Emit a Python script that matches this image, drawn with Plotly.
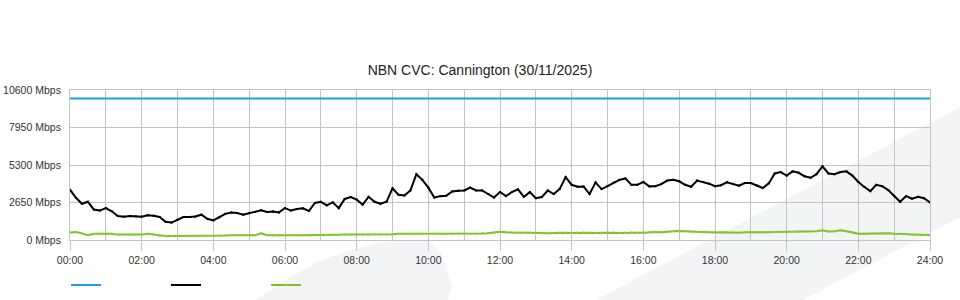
import plotly.graph_objects as go

# ---- data (10-minute samples, 00:00 .. 24:00) ----
hour_ticks = [0, 2, 4, 6, 8, 10, 12, 14, 16, 18, 20, 22, 24]
hour_labels = ["00:00", "02:00", "04:00", "06:00", "08:00", "10:00", "12:00",
               "14:00", "16:00", "18:00", "20:00", "22:00", "24:00"]
y_ticks = [0, 2650, 5300, 7950, 10600]
y_labels = ["0 Mbps", "2650 Mbps", "5300 Mbps", "7950 Mbps", "10600 Mbps"]

capacity_times = [0, 24]
capacity_mbps = [10000, 10000]

download_mbps = [
    3555, 2980, 2560, 2700, 2150, 2080, 2260, 2030, 1700, 1650,
    1690, 1670, 1650, 1750, 1717, 1625, 1290, 1230, 1435, 1625,
    1625, 1660, 1790, 1500, 1385, 1600, 1850, 1950, 1900, 1790,
    1900, 1980, 2100, 1980, 2020, 1950, 2260, 2080, 2190, 2235,
    2050, 2615, 2700, 2450, 2660, 2250, 2900, 3040, 2850, 2500,
    3050, 2700, 2565, 2700, 3650, 3200, 3150, 3505, 4650, 4250,
    3700, 3000, 3100, 3130, 3435, 3480, 3500, 3700, 3505, 3505,
    3250, 3000, 3390, 3100, 3390, 3580, 3050, 3380, 2950, 3040,
    3500, 3250, 3605, 4450, 3900, 3760, 3780, 3250, 4070, 3600,
    3800, 4050, 4250, 4350, 3900, 3900, 4100, 3790, 3800, 3950,
    4200, 4250, 4150, 3900, 3760, 4200, 4100, 3980, 3800, 3870,
    4080, 3950, 3840, 4030, 4020, 3850, 3675, 4000, 4700, 4800,
    4550, 4850, 4750, 4500, 4400, 4650, 5200, 4700, 4650, 4800,
    4850, 4550, 4100, 3750, 3450, 3900, 3800, 3530, 3100, 2700,
    3100, 2920, 3050, 2950, 2650,
]

upload_mbps = [
    530, 560, 470, 330, 440, 440, 430, 440, 380, 380,
    370, 380, 380, 440, 380, 290, 280, 280, 280, 280,
    280, 280, 280, 290, 280, 330, 320, 340, 330, 330,
    350, 330, 480, 340, 330, 320, 340, 330, 330, 340,
    320, 350, 360, 350, 380, 370, 380, 380, 390, 380,
    380, 400, 390, 380, 400, 440, 440, 440, 450, 440,
    430, 450, 440, 420, 440, 460, 450, 440, 440, 460,
    480, 520, 580, 540, 520, 510, 520, 520, 500, 510,
    480, 500, 520, 510, 500, 520, 530, 510, 500, 520,
    540, 520, 500, 520, 540, 520, 510, 540, 560, 540,
    600, 620, 640, 620, 580, 560, 540, 540, 530, 540,
    520, 530, 520, 540, 530, 520, 530, 540, 560, 570,
    560, 570, 600, 590, 600, 620, 680, 600, 620, 680,
    620, 560, 450, 450, 460, 450, 450, 470, 440, 450,
    430, 380, 360, 350, 350,
]

sample_times = [i / 6 for i in range(len(download_mbps))]

# ---- figure ----
W, H = 960, 300
L, R, T, B = 70, 30, 90, 60
PW, PH = W - L - R, H - T - B


def px(x, y):
    return (x - L) / PW, (H - B - y) / PH


def path(points):
    pts = [px(x, y) for x, y in points]
    return "M " + " L ".join(f"{a:.4f},{b:.4f}" for a, b in pts) + " Z"


band = [(577, 310), (975, 99), (975, 209), (784, 310)]
blob = [(250, 303), (283, 282), (317, 262), (350, 250), (383, 242), (410, 239.5),
        (430, 241.5), (442, 255), (447, 272), (452, 287), (447, 303)]

fig = go.Figure()
fig.add_trace(go.Scatter(x=capacity_times, y=capacity_mbps, mode="lines",
                         name=" ", line=dict(color="#1ba1e2", width=2)))
fig.add_trace(go.Scatter(x=sample_times, y=download_mbps, mode="lines+markers",
                         name=" ", line=dict(color="#000000", width=2),
                         marker=dict(symbol="square", size=2, color="#000000")))
fig.add_trace(go.Scatter(x=sample_times, y=upload_mbps, mode="lines+markers",
                         name=" ", line=dict(color="#7cc225", width=2),
                         marker=dict(symbol="square", size=2, color="#8fcf3a")))

grid = "#c4c4c4"
fig.update_layout(
    width=W, height=H,
    margin=dict(l=L, r=R, t=T, b=B, autoexpand=False),
    paper_bgcolor="white",
    plot_bgcolor="rgba(0,0,0,0)",
    font=dict(family="Liberation Sans, Arial, sans-serif", size=10.5, color="#333333"),
    title=dict(text="NBN CVC: Cannington (30/11/2025)", x=0.5, xanchor="center",
               y=1 - 70 / H, yanchor="middle",
               font=dict(size=14, color="#222222")),
    showlegend=True,
    legend=dict(orientation="h", x=-4 / PW, xanchor="left", y=(H - B - 285) / PH,
                yanchor="middle", entrywidth=55, entrywidthmode="pixels",
                bgcolor="rgba(0,0,0,0)", itemclick=False),
    shapes=[
        dict(type="path", xref="paper", yref="paper", path=path(band),
             fillcolor="#f3f4f6", line=dict(width=0), layer="below"),
        dict(type="path", xref="paper", yref="paper", path=path(blob),
             fillcolor="#f3f4f6", line=dict(width=0), layer="below"),
    ],
)
fig.update_xaxes(
    range=[0, 24], tickvals=hour_ticks, ticktext=hour_labels,
    showgrid=True, gridcolor=grid, gridwidth=1,
    ticks="outside", ticklen=10, tickcolor=grid, tickwidth=1,
    minor=dict(dtick=1, tick0=0, showgrid=True, gridcolor=grid, gridwidth=1),
    showline=True, linecolor=grid, linewidth=1, mirror=True,
    zeroline=False, fixedrange=True, automargin=False,
)
fig.update_yaxes(
    range=[0, 10600], tickvals=y_ticks, ticktext=y_labels,
    showgrid=True, gridcolor=grid, gridwidth=1,
    ticks="", ticklabelstandoff=6,
    showline=True, linecolor=grid, linewidth=1, mirror=True,
    zeroline=False, fixedrange=True, automargin=False,
)

fig.write_html("out.html")
